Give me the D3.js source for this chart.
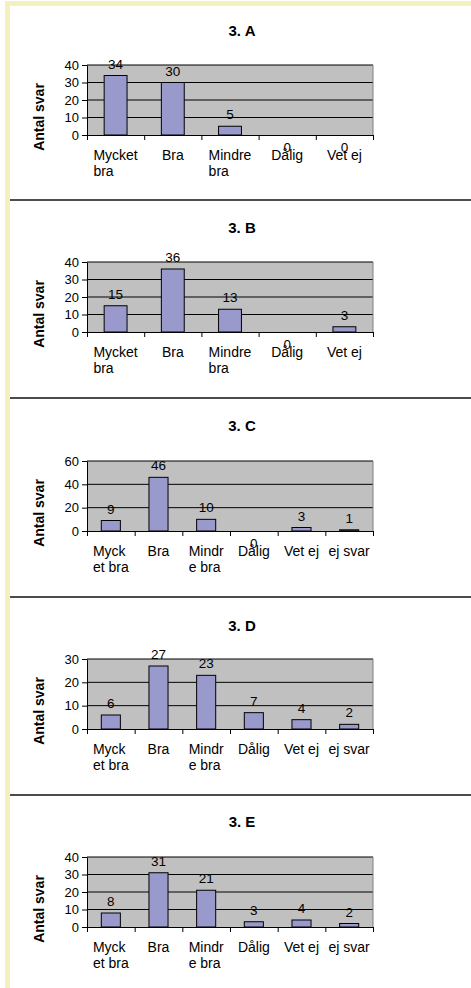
<!DOCTYPE html>
<html>
<head>
<meta charset="utf-8">
<title>Antal svar 3 A-E</title>
<script src="https://d3js.org/d3.v7.min.js"></script>
<style>
  body { margin: 0; padding: 0; background: #fff; }
  svg text { font-family: "Liberation Sans", Arial, sans-serif; fill: #000; }
</style>
</head>
<body>
<div id="chart"></div>
<script>
// categories
const cats5 = ["Mycket\nbra", "Bra", "Mindre\nbra", "Dålig", "Vet ej"];
const cats6 = ["Myck\net bra", "Bra", "Mindr\ne bra", "Dålig", "Vet ej", "ej svar"];

// series values
const valuesA = [34, 30, 5, 0, 0];
const valuesB = [15, 36, 13, 0, 3];
const valuesC = [9, 46, 10, 0, 3, 1];
const valuesD = [6, 27, 23, 7, 4, 2];
const valuesE = [8, 31, 21, 3, 4, 2];

// tick labels
const ticksA = [0, 10, 20, 30, 40];
const ticksB = [0, 10, 20, 30, 40];
const ticksC = [0, 20, 40, 60];
const ticksD = [0, 10, 20, 30];
const ticksE = [0, 10, 20, 30, 40];

const titles = ["3. A", "3. B", "3. C", "3. D", "3. E"];

const width = 471, height = 988;

// layout per panel (title baseline, plot top, plot bottom)
const panels = [
  { title: titles[0], cats: cats5, vals: valuesA, ticks: ticksA, tb: 35.5, top: 65, bot: 135 },
  { title: titles[1], cats: cats5, vals: valuesB, ticks: ticksB, tb: 233, top: 262, bot: 332 },
  { title: titles[2], cats: cats6, vals: valuesC, ticks: ticksC, tb: 430.5, top: 461, bot: 531 },
  { title: titles[3], cats: cats6, vals: valuesD, ticks: ticksD, tb: 630.5, top: 659, bot: 729 },
  { title: titles[4], cats: cats6, vals: valuesE, ticks: ticksE, tb: 827, top: 857, bot: 927 }
];
const separators = [200, 398, 597, 795];
const left = 87, right = 373;

const svg = d3.select("#chart")
  .append("svg")
    .attr("width", width)
    .attr("height", height);

// pale yellow page frame
svg.append("rect").attr("x", 5).attr("y", 1).attr("width", width - 5).attr("height", 5).attr("fill", "#f4f1bc");
svg.append("rect").attr("x", 5).attr("y", 1).attr("width", 5).attr("height", height).attr("fill", "#f4f1bc");

svg.selectAll("line.sep")
  .data(separators)
  .join("line")
    .attr("class", "sep")
    .attr("x1", 10).attr("x2", width)
    .attr("y1", d => d).attr("y2", d => d)
    .attr("stroke", "#111")
    .attr("stroke-width", 1.3);

panels.forEach(p => {
  const g = svg.append("g");
  const n = p.cats.length;

  const x = d3.scaleBand().domain(p.cats).range([left, right]);
  const xi = d3.scaleLinear().domain([0, n]).range([left, right]);
  const y = d3.scaleLinear().domain([0, d3.max(p.ticks)]).range([p.bot, p.top]);

  // title
  g.append("text")
    .attr("x", 242).attr("y", p.tb)
    .attr("text-anchor", "middle")
    .style("font-size", "15px").style("font-weight", "bold")
    .text(p.title);

  // y axis title
  const cy = (p.top + p.bot) / 2 + 17;
  g.append("text")
    .attr("transform", `translate(44, ${cy}) rotate(-90)`)
    .attr("text-anchor", "middle")
    .style("font-size", "14px").style("font-weight", "bold")
    .text("Antal svar");

  // plot area
  g.append("rect")
    .attr("x", left).attr("y", p.top)
    .attr("width", right - left).attr("height", p.bot - p.top)
    .attr("fill", "#c0c0c0");

  g.selectAll("line.grid")
    .data(p.ticks.filter(t => t > 0))
    .join("line")
      .attr("class", "grid")
      .attr("x1", left).attr("x2", right)
      .attr("y1", d => y(d)).attr("y2", d => y(d))
      .attr("stroke", "#000").attr("stroke-width", 1);

  g.append("line")
    .attr("x1", right).attr("x2", right)
    .attr("y1", p.top).attr("y2", p.bot)
    .attr("stroke", "#808080");

  // bars
  const bw = x.bandwidth() * 0.4;
  g.selectAll("rect.bar")
    .data(p.vals)
    .join("rect")
      .attr("class", "bar")
      .attr("x", (d, i) => x(p.cats[i]) + (x.bandwidth() - bw) / 2)
      .attr("y", d => y(d))
      .attr("width", bw)
      .attr("height", d => y(0) - y(d))
      .attr("fill", "#9999cc")
      .attr("stroke", "#000")
      .attr("stroke-width", d => d > 0 ? 1 : 0);

  // axes
  const yAxis = g.append("g")
    .attr("transform", `translate(${left},0)`)
    .call(d3.axisLeft(y).tickValues(p.ticks).tickSize(5).tickPadding(3).tickSizeOuter(0));
  yAxis.selectAll("text").style("font-size", "13px").style("font-family", "Liberation Sans, Arial, sans-serif");

  const xAxis = g.append("g")
    .attr("transform", `translate(0,${p.bot})`)
    .call(d3.axisBottom(xi).tickValues(d3.range(n + 1)).tickFormat("").tickSize(5).tickSizeOuter(0));
  xAxis.select(".domain").attr("stroke", "#000");

  // category labels: lines left aligned, block centred on band
  p.cats.forEach(c => {
    const lines = c.split("\n");
    const t = g.append("text")
      .style("font-size", "14px")
      .attr("y", p.bot + 25);
    lines.forEach((l, k) => {
      t.append("tspan").attr("dy", k === 0 ? 0 : 15.7).text(l);
    });
    const w = d3.max(t.selectAll("tspan").nodes(), nd => nd.getComputedTextLength());
    const x0 = x(c) + x.bandwidth() / 2 - w / 2;
    t.selectAll("tspan").attr("x", x0);
  });

  // data labels
  g.selectAll("text.val")
    .data(p.vals)
    .join("text")
      .attr("class", "val")
      .attr("x", (d, i) => x(p.cats[i]) + x.bandwidth() / 2)
      .attr("y", d => d > 0 ? y(d) - 7 : y(0) + 17)
      .attr("text-anchor", "middle")
      .style("font-size", "13.5px")
      .text(d => d);
});
</script>
</body>
</html>
